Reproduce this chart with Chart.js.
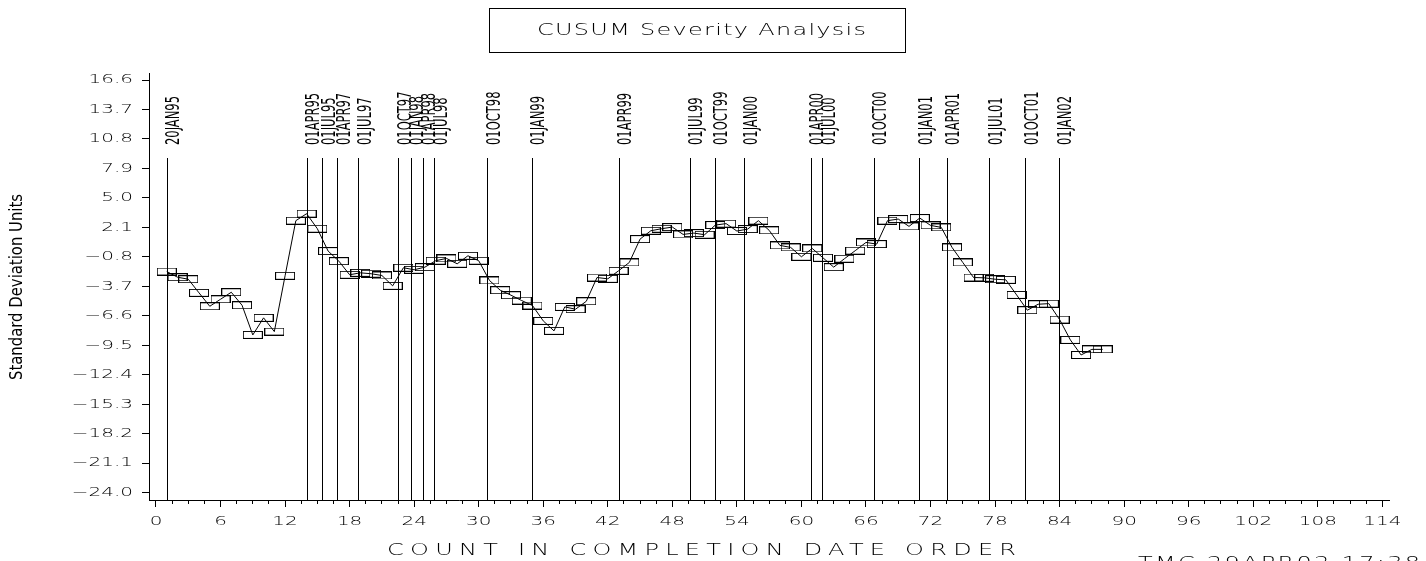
<!DOCTYPE html>
<html>
<head>
<meta charset="utf-8">
<script src="https://cdn.jsdelivr.net/npm/chart.js@4.4.1/dist/chart.umd.min.js"></script>
<style>
  html, body { margin: 0; padding: 0; background: #fff; overflow: hidden; }
</style>
</head>
<body>
<canvas id="chart" width="1426" height="561"></canvas>
<script>
// ── Data ─────────────────────────────────────────────────────────────────────
const counts = [
   1,  2,  3,  4,  5,  6,  7,  8,  9, 10, 11, 12, 13, 14, 15, 16, 17, 18, 19, 20,
  21, 22, 23, 24, 25, 26, 27, 28, 29, 30, 31, 32, 33, 34, 35, 36, 37, 38, 39, 40,
  41, 42, 43, 44, 45, 46, 47, 48, 49, 50, 51, 52, 53, 54, 55, 56, 57, 58, 59, 60,
  61, 62, 63, 64, 65, 66, 67, 68, 69, 70, 71, 72, 73, 74, 75, 76, 77, 78, 79, 80,
  81, 82, 83, 84, 85, 86, 87, 88
];
const cusum = [
  -2.24, -2.80, -3.00, -4.34, -5.66, -4.97, -4.28, -5.56, -8.48, -6.80,
  -8.15, -2.66,  2.76,  3.45,  1.97, -0.23, -1.22, -2.56, -2.37, -2.46,
  -2.63, -3.65, -1.87, -2.07, -1.81, -1.18, -0.95, -1.48, -0.69, -1.18,
  -3.12, -4.08, -4.57, -5.10, -5.59, -7.10, -8.08, -5.72, -5.95, -5.17,
  -2.83, -2.96, -2.17, -1.35,  0.95,  1.77,  1.97,  2.13,  1.41,  1.54,
   1.38,  2.33,  2.47,  1.74,  1.93,  2.76,  1.81,  0.33,  0.13, -0.79,
   0.03, -0.89, -1.81, -0.98, -0.19,  0.62,  0.46,  2.76,  2.92,  2.20,
   3.02,  2.30,  2.10,  0.13, -1.35, -2.83, -2.86, -3.00, -3.06, -4.54,
  -6.05, -5.46, -5.40, -6.97, -8.97, -10.45, -9.90, -9.90
];

// reference dates (position on the count axis + label)
const refX = [
  1.0, 14.0, 15.45, 16.85, 18.8, 22.5, 23.7, 24.8, 25.85, 30.8, 34.95, 43.0,
  49.6, 51.95, 54.7, 60.85, 61.95, 66.7, 70.95, 73.5, 77.45, 80.8, 83.9
];
const refLabels = [
  '20JAN95', '01APR95', '01JUL95', '01APR97', '01JUL97', '01OCT97', '01JAN98',
  '01APR98', '01JUL98', '01OCT98', '01JAN99', '01APR99', '01JUL99', '01OCT99',
  '01JAN00', '01APR00', '01JUL00', '01OCT00', '01JAN01', '01APR01', '01JUL01',
  '01OCT01', '01JAN02'
];

const yTicks = [16.6, 13.7, 10.8, 7.9, 5.0, 2.1, -0.8, -3.7, -6.6, -9.5, -12.4, -15.3, -18.2, -21.1, -24.0];

const titleText  = 'CUSUM Severity Analysis';
const xTitleText = 'COUNT IN COMPLETION DATE ORDER';
const yTitleText = 'Standard Deviation Units';
const footText   = 'TMC 29APR02 17:38';

// ── Helpers ──────────────────────────────────────────────────────────────────
const WIDE = 1.6;          // horizontal stretch of the plotter font
const PLOT_FONT = '"DejaVu Sans"';
const PLOT_WEIGHT = 200;
const NARROW = '"Liberation Sans Narrow", "DejaVu Sans Condensed", "Liberation Sans", sans-serif';
const REF_TOP = 8.9;       // value where the reference lines start

// hollow rectangle marker
const boxMark = document.createElement('canvas');
boxMark.width = 20; boxMark.height = 8;
(() => {
  const c = boxMark.getContext('2d');
  c.strokeStyle = '#000'; c.lineWidth = 1;
  c.strokeRect(0.5, 0.5, 19, 7);
})();

// stretch tick labels horizontally around their anchor
function stretchTicks(scale, sx) {
  if (scale.$stretched) return;
  const orig = scale.drawLabels;
  scale.drawLabels = function (area) {
    const ctx = this.ctx;
    const fill = ctx.fillText;
    ctx.fillText = function (t, x, y, m) {
      this.save(); this.translate(x, y); this.scale(sx, 1);
      if (m === undefined) fill.call(this, t, 0, 0); else fill.call(this, t, 0, 0, m);
      this.restore();
    };
    try { orig.call(this, area); } finally { delete ctx.fillText; }
  };
  scale.$stretched = true;
}

// wide, letter-spaced text fitted to a target width (left aligned)
function wideText(ctx, text, x, y, targetW, size) {
  ctx.save();
  ctx.font = PLOT_WEIGHT + ' ' + size + 'px ' + PLOT_FONT;
  ctx.fillStyle = '#000';
  const w = ctx.measureText(text).width;
  if ('letterSpacing' in ctx) ctx.letterSpacing = ((targetW / WIDE - w) / (text.length - 1)) + 'px';
  ctx.translate(x, y); ctx.scale(WIDE, 1);
  ctx.textAlign = 'left'; ctx.textBaseline = 'alphabetic';
  ctx.fillText(text, 0, 0);
  ctx.restore();
}

const decor = {
  id: 'decor',
  beforeDraw(chart) {
    stretchTicks(chart.scales.x, WIDE);
    stretchTicks(chart.scales.y, WIDE);
  },
  beforeDatasetsDraw(chart) {
    const { ctx, scales: { x, y } } = chart;
    const top = Math.round(y.getPixelForValue(REF_TOP));
    ctx.save();
    ctx.strokeStyle = '#000'; ctx.lineWidth = 1;
    refX.forEach(v => {
      const px = Math.round(x.getPixelForValue(v)) + 0.5;
      ctx.beginPath(); ctx.moveTo(px, top); ctx.lineTo(px, y.bottom); ctx.stroke();
    });
    ctx.restore();
  },
  afterDraw(chart) {
    const { ctx, scales: { x, y } } = chart;
    const top = Math.round(y.getPixelForValue(REF_TOP));

    // date labels, rotated, above each reference line
    ctx.save();
    ctx.fillStyle = '#000';
    ctx.font = '19.5px ' + NARROW;
    const k = 49 / ctx.measureText('20JAN95').width;
    refX.forEach((v, i) => {
      const px = x.getPixelForValue(v);
      ctx.save();
      ctx.translate(px + 12.5, top - 13);
      ctx.rotate(-Math.PI / 2);
      ctx.scale(k, 1);
      ctx.textAlign = 'left'; ctx.textBaseline = 'alphabetic';
      ctx.fillText(refLabels[i], 0, 0);
      ctx.restore();
    });

    // y-axis title
    ctx.font = '17px ' + NARROW;
    const ky = 186 / ctx.measureText(yTitleText).width;
    ctx.translate(18, 287);
    ctx.rotate(-Math.PI / 2);
    ctx.scale(ky, 1);
    ctx.textAlign = 'center'; ctx.textBaseline = 'middle';
    ctx.fillText(yTitleText, 0, 0);
    ctx.restore();

    // boxed title
    ctx.save();
    ctx.strokeStyle = '#000'; ctx.lineWidth = 1;
    ctx.strokeRect(489.5, 8.5, 416, 44);
    ctx.restore();
    wideText(ctx, titleText, 537, 35, 329, 15);

    wideText(ctx, xTitleText, 387, 555, 629, 15);
    wideText(ctx, footText, 1138, 568, 282, 15);
  }
};

const tickFont = { family: 'DejaVu Sans', size: 12.5, weight: PLOT_WEIGHT };

new Chart(document.getElementById('chart'), {
  type: 'line',
  data: {
    datasets: [{
      data: counts.map((c, i) => ({ x: c, y: cusum[i] })),
      borderColor: '#000',
      borderWidth: 1,
      tension: 0,
      fill: false,
      pointStyle: boxMark,
      pointRadius: 4,
    }]
  },
  options: {
    responsive: false,
    animation: false,
    devicePixelRatio: 1,
    layout: { padding: { left: 0, right: 37, top: 73, bottom: 0 } },
    plugins: { legend: { display: false }, tooltip: { enabled: false } },
    scales: {
      x: {
        type: 'linear', position: 'bottom', weight: 1,
        min: -0.65, max: 114.62,
        border: { color: '#000', width: 1 },
        grid: { drawOnChartArea: false, color: '#000', tickLength: 7 },
        ticks: { stepSize: 6, includeBounds: false, autoSkip: false, maxRotation: 0,
                 padding: 7, color: '#000', font: tickFont },
        afterFit: s => { s.height = 61; }
      },
      x2: {
        type: 'linear', position: 'bottom', weight: 0,
        min: -0.65, max: 114.62,
        border: { display: false },
        grid: { drawOnChartArea: false, color: '#000', tickLength: 4 },
        ticks: { stepSize: 1.5, includeBounds: false, autoSkip: false, display: false },
        afterFit: s => { s.height = 0; }
      },
      y: {
        type: 'linear', position: 'left',
        min: -24.72, max: 17.29,
        border: { color: '#000', width: 1 },
        grid: { drawOnChartArea: false, color: '#000', tickLength: 7 },
        afterBuildTicks: s => { s.ticks = yTicks.map(v => ({ value: v })); },
        ticks: {
          autoSkip: false, padding: 9, color: '#000', font: tickFont,
          callback: v => (v < 0 ? '\u2212' + Math.abs(v).toFixed(1) : v.toFixed(1))
        },
        afterFit: s => { s.width = 149; }
      }
    }
  },
  plugins: [decor]
});
</script>
</body>
</html>
